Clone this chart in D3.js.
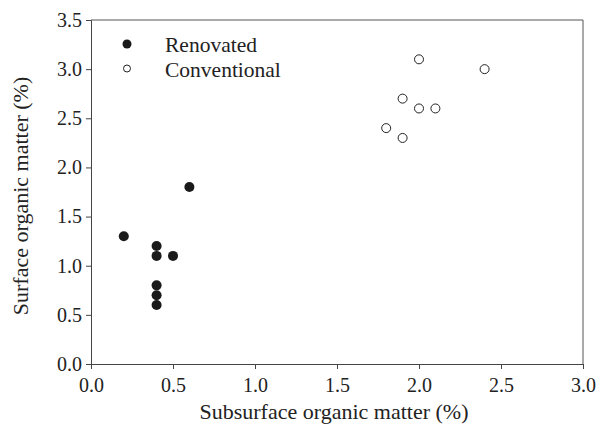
<html lang="en">
<head>
<meta charset="UTF-8">
<title>Organic matter</title>
<script src="https://d3js.org/d3.v7.min.js"></script>
<style>
  body { margin: 0; background: #fff; }
  svg text { font-family: "Liberation Serif", "Times New Roman", serif; }
</style>
</head>
<body>
<script>
// data
const renovatedX = [0.2, 0.4, 0.4, 0.5, 0.4, 0.4, 0.4, 0.6];
const renovatedY = [1.3, 1.2, 1.1, 1.1, 0.8, 0.7, 0.6, 1.8];
const conventionalX = [2.0, 2.4, 1.9, 2.0, 2.1, 1.8, 1.9];
const conventionalY = [3.1, 3.0, 2.7, 2.6, 2.6, 2.4, 2.3];
const xTicks = [0, 0.5, 1.0, 1.5, 2.0, 2.5, 3.0];
const yTicks = [0, 0.5, 1.0, 1.5, 2.0, 2.5, 3.0, 3.5];
const seriesNames = ["Renovated", "Conventional"];

const width = 598, height = 430;
const margin = { top: 20, right: 15, bottom: 66, left: 91 };

const x = d3.scaleLinear().domain([0, 3]).range([margin.left, width - margin.right]);
const y = d3.scaleLinear().domain([0, 3.5]).range([height - margin.bottom, margin.top]);

const svg = d3.select("body").append("svg")
  .attr("width", width)
  .attr("height", height);

// frame (top + right)
svg.append("path")
  .attr("d", `M${x(0)},${y(3.5)}H${x(3)}V${y(0)}`)
  .attr("fill", "none")
  .attr("stroke", "#555")
  .attr("stroke-width", 1);

// axes
const xAxis = svg.append("g")
  .attr("transform", `translate(0,${y(0)})`)
  .call(d3.axisBottom(x).tickValues(xTicks).tickFormat(d3.format(".1f")).tickSizeOuter(0).tickSize(5).tickPadding(9));

const yAxis = svg.append("g")
  .attr("transform", `translate(${x(0)},0)`)
  .call(d3.axisLeft(y).tickValues(yTicks).tickFormat(d3.format(".1f")).tickSizeOuter(0).tickSize(5).tickPadding(4));

[xAxis, yAxis].forEach(g => {
  g.attr("font-family", "'Liberation Serif', serif").attr("font-size", 20);
  g.select(".domain").attr("stroke", "#444");
  g.selectAll(".tick line").attr("stroke", "#444");
  g.selectAll(".tick text").attr("fill", "#222");
});

// axis titles
svg.append("text")
  .attr("x", 334)
  .attr("y", 419)
  .attr("text-anchor", "middle")
  .attr("fill", "#222")
  .style("font-size", "22px")
  .text("Subsurface organic matter (%)");

svg.append("text")
  .attr("transform", `translate(28,196) rotate(-90)`)
  .attr("text-anchor", "middle")
  .attr("fill", "#222")
  .style("font-size", "22px")
  .text("Surface organic matter (%)");

// points
svg.append("g")
  .selectAll("circle")
  .data(d3.zip(renovatedX, renovatedY))
  .join("circle")
  .attr("cx", d => x(d[0]))
  .attr("cy", d => y(d[1]))
  .attr("r", 5)
  .attr("fill", "#1a1a1a");

svg.append("g")
  .selectAll("circle")
  .data(d3.zip(conventionalX, conventionalY))
  .join("circle")
  .attr("cx", d => x(d[0]))
  .attr("cy", d => y(d[1]))
  .attr("r", 4.5)
  .attr("fill", "#fff")
  .attr("stroke", "#222")
  .attr("stroke-width", 1);

// legend
const legend = svg.append("g")
  .selectAll("g")
  .data(seriesNames)
  .join("g")
  .attr("transform", (d, i) => `translate(127,${44 + i * 24.5})`);

legend.append("circle")
  .attr("r", (d, i) => i === 0 ? 4.5 : 3.5)
  .attr("fill", (d, i) => i === 0 ? "#1a1a1a" : "#fff")
  .attr("stroke", (d, i) => i === 0 ? "none" : "#222")
  .attr("stroke-width", 1);

legend.append("text")
  .attr("x", 38)
  .attr("y", 8)
  .attr("fill", "#222")
  .style("font-size", "21.5px")
  .text(d => d);
</script>
</body>
</html>
